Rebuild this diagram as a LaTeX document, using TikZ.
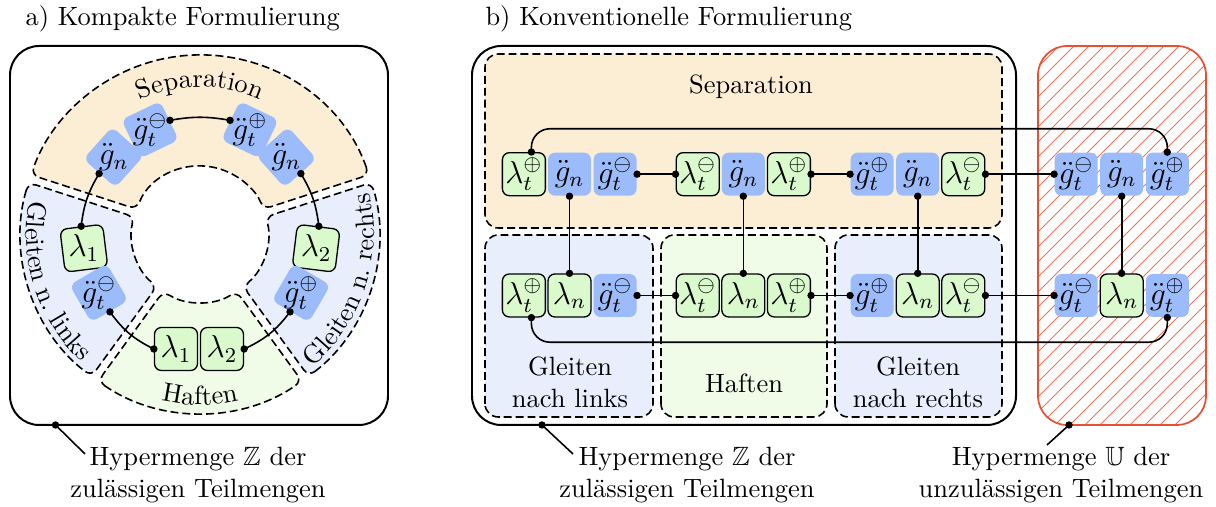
\documentclass[tikz,border=0pt]{standalone}
\usepackage{amsmath,amssymb}
\usepackage{fontspec}
\usetikzlibrary{calc,decorations.text}

\definecolor{sepfill}{HTML}{FCEDD5}
\definecolor{gleitfill}{HTML}{E8EEFC}
\definecolor{haftfill}{HTML}{F0FCE8}
\definecolor{gbox}{HTML}{9BBBFA}
\definecolor{lbox}{HTML}{DAFACD}
\definecolor{ured}{HTML}{E85032}

% connector with a dot at each end
\newcommand\linkdots[3][]{%
  \draw[conn] (#2) to[#1] (#3);
  \fill (#2) circle[radius=1.4pt] (#3) circle[radius=1.4pt];}

% one dashed sector of the ring around (C): #1 fill, #2 start angle, #3 end angle
\newcommand\ringsector[3]{%
  \path[region, rounded corners=3pt, fill=#1]
    ($(C)+(#2+1.3:179)$) arc[start angle=#2+1.3, end angle=#3-1.3, radius=179]
    -- ($(C)+(#3-3.4:68)$) arc[start angle=#3-3.4, end angle=#2+3.4, radius=68]
    -- cycle;}

\begin{document}
\begin{tikzpicture}[x=0.378pt, y=0.378pt,
  gv/.style={fill=gbox, draw=none, rounded corners=2.6pt,
    minimum width=16.25pt, minimum height=16.25pt, inner sep=0pt, font=\large},
  lv/.style={fill=lbox, draw=black, line width=0.5pt, rounded corners=2.6pt,
    minimum width=16.25pt, minimum height=16.25pt, inner sep=0pt, font=\large},
  lbl/.style={font=\large, inner sep=0pt},
  region/.style={draw=black, line width=0.6pt, dash pattern=on 3pt off 1.5pt},
  hull/.style={draw=black, line width=0.75pt, rounded corners=11pt},
  conn/.style={draw=black, line width=0.6pt},
  curved/.style={decorate, decoration={text along path, text={#1}, text align=center}},
]
\useasboundingbox (0,0) rectangle (1216,507);

% ---------------- titles ----------------
\node[anchor=base west, inner sep=0pt] (ta) at (25,481) {a) Kompakte Formulierung};
\node[anchor=base west, inner sep=0pt] (tb) at (485,481) {b) Konventionelle Formulierung};

% ---------------- a) compact formulation ----------------
\draw[hull] (10,82) rectangle (388,461);
\coordinate (C) at (200,273);

\ringsector{sepfill}{18}{162}
\ringsector{gleitfill}{162}{234}
\ringsector{haftfill}{234}{306}
\ringsector{gleitfill}{306}{378}

\path[curved=Separation] ($(C)+(135:147)$) arc[start angle=135, end angle=45, radius=147];
\path[curved={Gleiten n. links}] ($(C)+(158:174)$) arc[start angle=158, end angle=238, radius=174];
\path[curved=Haften] ($(C)+(240:171)$) arc[start angle=240, end angle=300, radius=171];
\path[curved={Gleiten n. rechts}] ($(C)+(-58:174)$) arc[start angle=-58, end angle=22, radius=174];

\node[gv, rotate=48.3] (sGnL) at ($(C)+(138.3:115.5)$) {};
\node[lbl] (sGnLt) at (sGnL) {$\ddot g_n$};
\node[gv, rotate=25.6] (sGtm) at ($(C)+(115.6:115.5)$) {};
\node[lbl] (sGtmt) at (sGtm) {$\ddot g_t^{\ominus}$};
\node[gv, rotate=-25.6] (sGtp) at ($(C)+(64.4:115.5)$) {};
\node[lbl] (sGtpt) at (sGtp) {$\ddot g_t^{\oplus}$};
\node[gv, rotate=-48.3] (sGnR) at ($(C)+(41.7:115.5)$) {};
\node[lbl] (sGnRt) at (sGnR) {$\ddot g_n$};

\node[lv, rotate=97] (lLam) at ($(C)+(187:117)$) {};
\node[lbl] (lLamt) at (lLam) {$\lambda_1$};
\node[gv, rotate=120.2] (lGtm) at ($(C)+(210.2:117)$) {};
\node[lbl] (lGtmt) at (lGtm) {$\ddot g_t^{\ominus}$};
\node[lv, rotate=-97] (rLam) at ($(C)+(-7:117)$) {};
\node[lbl] (rLamt) at (rLam) {$\lambda_2$};
\node[gv, rotate=-120.2] (rGtp) at ($(C)+(-30.2:117)$) {};
\node[lbl] (rGtpt) at (rGtp) {$\ddot g_t^{\oplus}$};

\node[lv] (hL) at (176,158) {$\lambda_1$};
\node[lv] (hR) at (222,158) {$\lambda_2$};

\linkdots[bend right=12]{sGnL.west}{lLam.east}
\linkdots[bend left=10]{sGtm.east}{sGtp.west}
\linkdots[bend left=12]{sGnR.east}{rLam.west}
\linkdots[bend right=14]{lGtm.west}{hL.west}
\linkdots[bend right=14]{hR.east}{rGtp.east}

% ---------------- b) conventional formulation ----------------
\draw[hull] (472,82) rectangle (1016,461);

\begin{scope}
  \clip[rounded corners=11pt] (1038,82) rectangle (1206,461);
  \foreach \s in {0,...,38}
    \draw[ured!80, line width=0.3pt] (650+\s*15,82) -- ++(379,379);
\end{scope}
\draw[ured, line width=0.65pt, rounded corners=11pt] (1038,82) rectangle (1206,461);

\path[region, rounded corners=5pt, fill=sepfill] (485,279) rectangle (1002,453);
\path[region, rounded corners=5pt, fill=gleitfill] (485,90) rectangle (653,272);
\path[region, rounded corners=5pt, fill=haftfill] (661,90) rectangle (827,272);
\path[region, rounded corners=5pt, fill=gleitfill] (835,90) rectangle (1002,272);

\node (tsep) at (751,420.3) {Separation};
\node[align=center] (tgl) at (570,124.7) {Gleiten\\nach links};
\node (thaft) at (744,124) {Haften};
\node[align=center] (tgr) at (918,124.7) {Gleiten\\nach rechts};

% upper row
\node[lv] (t1a) at (523.9,332.8) {$\lambda_t^{\oplus}$};
\node[gv] (t1b) at (569.5,332.8) {$\ddot g_n$};
\node[gv] (t1c) at (615.1,332.8) {$\ddot g_t^{\ominus}$};
\node[lv] (t2a) at (697.7,332.8) {$\lambda_t^{\ominus}$};
\node[gv] (t2b) at (743.3,332.8) {$\ddot g_n$};
\node[lv] (t2c) at (788.9,332.8) {$\lambda_t^{\oplus}$};
\node[gv] (t3a) at (872.1,332.8) {$\ddot g_t^{\oplus}$};
\node[gv] (t3b) at (917.7,332.8) {$\ddot g_n$};
\node[lv] (t3c) at (963.3,332.8) {$\lambda_t^{\ominus}$};
\node[gv] (t4a) at (1076.1,332.8) {$\ddot g_t^{\ominus}$};
\node[gv] (t4b) at (1121.7,332.8) {$\ddot g_n$};
\node[gv] (t4c) at (1167.3,332.8) {$\ddot g_t^{\oplus}$};

% lower row
\node[lv] (b1a) at (523.9,211.5) {$\lambda_t^{\oplus}$};
\node[lv] (b1b) at (569.5,211.5) {$\lambda_n$};
\node[gv] (b1c) at (615.1,211.5) {$\ddot g_t^{\ominus}$};
\node[lv] (b2a) at (697.7,211.5) {$\lambda_t^{\ominus}$};
\node[lv] (b2b) at (743.3,211.5) {$\lambda_n$};
\node[lv] (b2c) at (788.9,211.5) {$\lambda_t^{\oplus}$};
\node[gv] (b3a) at (872.1,211.5) {$\ddot g_t^{\oplus}$};
\node[lv] (b3b) at (917.7,211.5) {$\lambda_n$};
\node[lv] (b3c) at (963.3,211.5) {$\lambda_t^{\ominus}$};
\node[gv] (b4a) at (1076.1,211.5) {$\ddot g_t^{\ominus}$};
\node[lv] (b4b) at (1121.7,211.5) {$\lambda_n$};
\node[gv] (b4c) at (1167.3,211.5) {$\ddot g_t^{\oplus}$};

\linkdots{t1c.east}{t2a.west}
\linkdots{t2c.east}{t3a.west}
\linkdots{t3c.east}{t4a.west}
\linkdots{b1c.east}{b2a.west}
\linkdots{b2c.east}{b3a.west}
\linkdots{b3c.east}{b4a.west}
\linkdots{t1b.south}{b1b.north}
\linkdots{t2b.south}{b2b.north}
\linkdots{t3b.south}{b3b.north}
\linkdots{t4b.south}{b4b.north}

\coordinate (upA) at ($(t1a.north)+(7.5,0)$);
\coordinate (loA) at ($(b1a.south)+(7.5,0)$);
\draw[conn, rounded corners=7pt] (upA) |- ($(t4c.north)+(0,23.4)$) -- (t4c.north);
\draw[conn, rounded corners=7pt] (loA) |- ($(b4c.south)+(0,-24.7)$) -- (b4c.south);
\fill (upA) circle[radius=1.4pt] (t4c.north) circle[radius=1.4pt]
      (loA) circle[radius=1.4pt] (b4c.south) circle[radius=1.4pt];

% ---------------- annotations ----------------
\node[align=center, anchor=north, inner sep=0pt] (nZa) at (198,60.5)
  {Hypermenge $\mathbb{Z}$ der\\zulässigen Teilmengen};
\node[align=center, anchor=north, inner sep=0pt] (nZb) at (687,60.5)
  {Hypermenge $\mathbb{Z}$ der\\zulässigen Teilmengen};
\node[align=center, anchor=north, inner sep=0pt] (nU) at (1061,60.5)
  {Hypermenge $\mathbb{U}$ der\\unzulässigen Teilmengen};

\coordinate (pZa) at (55.5,82);  \coordinate (eZa) at (85,53);
\coordinate (pZb) at (542,82);   \coordinate (eZb) at (573,53);
\coordinate (pU)  at (1069,82);  \coordinate (eU)  at (1047,62);
\draw[conn] (pZa) -- (eZa) (pZb) -- (eZb) (pU) -- (eU);
\fill (pZa) circle[radius=1.4pt] (pZb) circle[radius=1.4pt] (pU) circle[radius=1.4pt];
\end{tikzpicture}
\end{document}
